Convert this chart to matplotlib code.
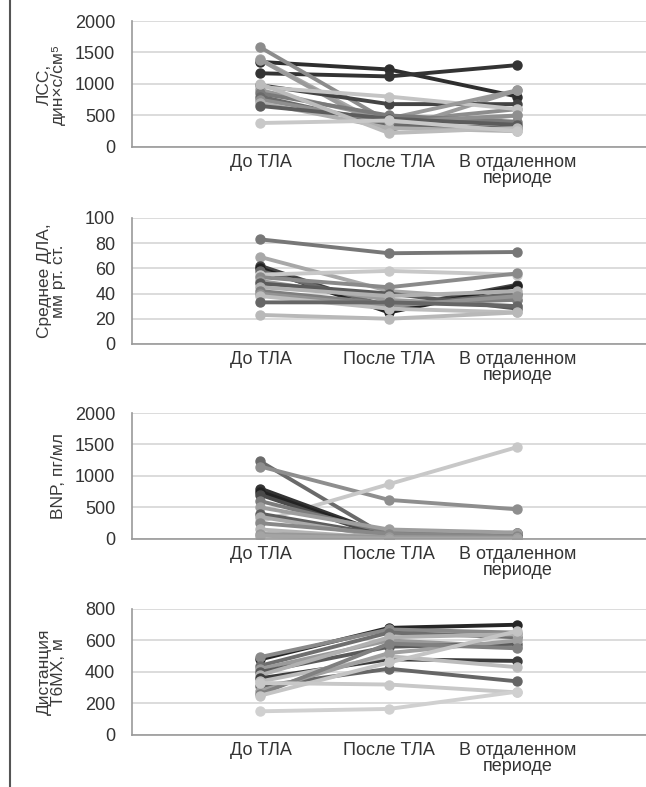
import matplotlib
matplotlib.use("Agg")
import matplotlib.pyplot as plt
from matplotlib.lines import Line2D

plt.rcParams["font.family"] = ["Liberation Sans", "DejaVu Sans"]

# Time points
periods = ["До ТЛА", "После ТЛА", "В отдаленном\nпериоде"]

# Panel 1: ЛСС (per patient: before, after, late)
lss = [
    [1350, 1230, 800],
    [1170, 1120, 1300],
    [1580, 400, 600],
    [1390, 300, 500],
    [1380, 250, 900],
    [980, 680, 680],
    [950, 800, 600],
    [900, 450, 900],
    [850, 500, 400],
    [800, 350, 300],
    [750, 400, 500],
    [700, 300, 250],
    [650, 450, 350],
    [1000, 220, 300],
    [380, 420, 250],
]

# Panel 2: среднее ДЛА
dla = [
    [83, 72, 73],
    [69, 42, 35],
    [62, 28, 47],
    [60, 25, 46],
    [58, 30, 40],
    [55, 58, 55],
    [53, 45, 56],
    [50, 35, 30],
    [48, 40, 28],
    [45, 38, 42],
    [42, 32, 35],
    [40, 30, 38],
    [38, 28, 25],
    [33, 33, 30],
    [23, 20, 25],
]

# Panel 3: BNP
bnp = [
    [1230, 20, 50],
    [1150, 620, 470],
    [280, 870, 1460],
    [800, 50, 100],
    [750, 30, 80],
    [700, 10, 60],
    [600, 100, 90],
    [500, 150, 100],
    [400, 50, 30],
    [350, 20, 20],
    [250, 80, 40],
    [150, 10, 10],
    [80, 30, 20],
    [50, 5, 5],
]

# Panel 4: дистанция Т6МХ
t6mx = [
    [480, 680, 700],
    [495, 670, 650],
    [440, 650, 620],
    [420, 600, 560],
    [400, 560, 580],
    [380, 620, 640],
    [360, 480, 470],
    [340, 500, 430],
    [310, 420, 340],
    [280, 520, 600],
    [260, 580, 550],
    [250, 460, 660],
    [330, 320, 270],
    [150, 165, 275],
]

# gray shades per patient line
lss_colors = ["#2e2e2e", "#333333", "#8c8c8c", "#a8a8a8", "#9a9a9a", "#444444",
              "#c4c4c4", "#999999", "#7a7a7a", "#6a6a6a", "#8f8f8f", "#b0b0b0",
              "#5c5c5c", "#bcbcbc", "#c8c8c8"]
dla_colors = ["#777777", "#a8a8a8", "#444444", "#222222", "#6a6a6a", "#c8c8c8",
              "#8a8a8a", "#9c9c9c", "#5a5a5a", "#b0b0b0", "#7e7e7e", "#939393",
              "#bdbdbd", "#666666", "#b8b8b8"]
bnp_colors = ["#6a6a6a", "#8e8e8e", "#c8c8c8", "#333333", "#222222", "#4a4a4a",
              "#7c7c7c", "#9e9e9e", "#5e5e5e", "#aaaaaa", "#888888", "#b4b4b4",
              "#999999", "#a4a4a4"]
t6mx_colors = ["#262626", "#8a8a8a", "#6e6e6e", "#9a9a9a", "#5a5a5a", "#b0b0b0",
               "#3c3c3c", "#bcbcbc", "#666666", "#a0a0a0", "#808080", "#c4c4c4",
               "#c8c8c8", "#d0d0d0"]

panels = [
    (lss, lss_colors, "ЛСС,\nдин×с/см⁵", 2000, 500, 0.9733),
    (dla, dla_colors, "Среднее ДЛА,\nмм рт. ст.", 100, 20, 0.7230),
    (bnp, bnp_colors, "BNP, пг/мл", 2000, 500, 0.4752),
    (t6mx, t6mx_colors, "Дистанция\nТ6МХ, м", 800, 200, 0.2262),
]

fig = plt.figure(figsize=(6.46, 7.87), dpi=100)

for data, colors, label, ymax, step, top in panels:
    h = 0.160
    ax = fig.add_axes([0.2043, top - h, 0.7957, h])
    x = list(range(len(periods)))
    for row, c in zip(data, colors):
        ax.plot(x, row, color=c, lw=2.8, marker="o", ms=6.5, solid_capstyle="round")
    ax.set_xlim(-1, 3)
    ax.set_ylim(0, ymax)
    ax.set_yticks(range(0, ymax + 1, step))
    ax.set_xticks(x)
    ax.set_xticklabels(periods, fontsize=13, color="#333333", linespacing=0.9)
    ax.tick_params(axis="both", length=0, labelsize=13, colors="#333333")
    ax.tick_params(axis="y", pad=12)
    ax.tick_params(axis="x", pad=5)
    ax.grid(axis="y", color="#d6d6d6", lw=1.2)
    ax.set_axisbelow(True)
    for s in ["top", "right"]:
        ax.spines[s].set_visible(False)
    for s in ["left", "bottom"]:
        ax.spines[s].set_color("#999999")
        ax.spines[s].set_linewidth(1.2)
    ax.set_ylabel(label, fontsize=12.5, color="#3a3a3a", linespacing=0.95)
    ax.yaxis.set_label_coords(-0.128, 0.5)

# frame line on the left edge
fig.add_artist(Line2D([10 / 646, 10 / 646], [0, 1], color="#555555", lw=1.5))

fig.savefig("out.png", dpi=100)
